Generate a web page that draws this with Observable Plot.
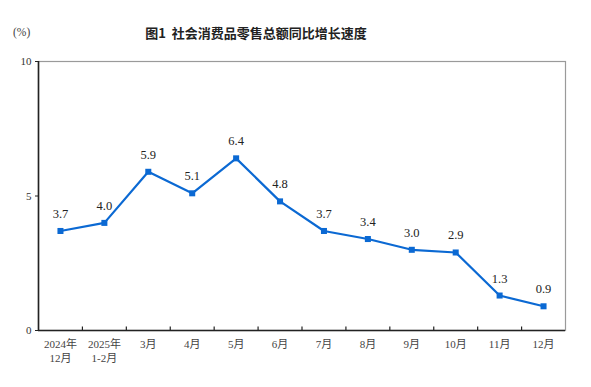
<!DOCTYPE html>
<html>
<head>
<meta charset="utf-8">
<script src="https://cdn.jsdelivr.net/npm/d3@7"></script>
<script src="https://cdn.jsdelivr.net/npm/@observablehq/plot@0.6"></script>
<style>
  body { margin: 0; background: #fff; }
  #wrap { position: relative; width: 591px; height: 387px; }
  #title { position: absolute; left: 0; width: 512px; top: 23px; text-align: center;
    font-family: "Noto Sans CJK SC", sans-serif; font-size: 13px; font-weight: 700; color: #222; line-height: 20px; }
  #unit { position: absolute; left: 13px; top: 26px; font-family: "Liberation Serif", serif; font-size: 11.5px; color: #444; }
  #chart { position: absolute; left: 0; top: 0; }
</style>
</head>
<body>
<div id="wrap">
  <div id="chart"></div>
  <div id="title">图1&nbsp; 社会消费品零售总额同比增长速度</div>
  <div id="unit">(%)</div>
</div>
<script>
const categories = ["2024年\n12月", "2025年\n1-2月", "3月", "4月", "5月", "6月", "7月", "8月", "9月", "10月", "11月", "12月"];
const values = [3.7, 4.0, 5.9, 5.1, 6.4, 4.8, 3.7, 3.4, 3.0, 2.9, 1.3, 0.9];
const yTicks = [0, 5, 10];

const data = categories.map((c, i) => ({i: i + 0.5, label: c, value: values[i]}));
const boundaries = d3.range(1, categories.length);

const W = 591, H = 387, mT = 61, mB = 57, mL = 38, mR = 26;
const frameH = H - mT - mB;
const blue = "#0b69d3";
const serif = "Liberation Serif, Noto Sans CJK SC, serif";

const chart = Plot.plot({
  width: W, height: H,
  marginTop: mT, marginBottom: mB, marginLeft: mL, marginRight: mR,
  style: {fontFamily: serif, background: "transparent"},
  x: {domain: [0, categories.length], axis: null},
  y: {domain: [0, 10], axis: null},
  marks: [
    Plot.frame({stroke: "#9a9a9a", strokeWidth: 1.2}),
    Plot.ruleX(boundaries, {x: d => d, insetTop: frameH - 3.5, stroke: "#222", strokeWidth: 1.2}),
    Plot.ruleY([0], {stroke: "#222", strokeWidth: 1.6}),
    Plot.ruleX([0], {stroke: "#222", strokeWidth: 1.6}),
    Plot.axisY({ticks: yTicks, tickSize: 3, tickPadding: 4, fontSize: 11, fill: "#333", stroke: "#222", fontFamily: serif, label: null}),
    Plot.text(data, {x: "i", text: "label", frameAnchor: "bottom", lineAnchor: "top", dy: 7, fontSize: 11, fill: "#444", lineHeight: 1.3, fontFamily: serif}),
    Plot.line(data, {x: "i", y: "value", stroke: blue, strokeWidth: 2.2}),
    Plot.dot(data, {x: "i", y: "value", symbol: "square", r: 3.4, fill: blue, stroke: "none"}),
    Plot.text(data, {x: "i", y: "value", text: d => d.value.toFixed(1), dy: -17, fontSize: 12.5, fill: "#222", fontFamily: serif})
  ]
});
document.getElementById("chart").appendChild(chart);
</script>
</body>
</html>
